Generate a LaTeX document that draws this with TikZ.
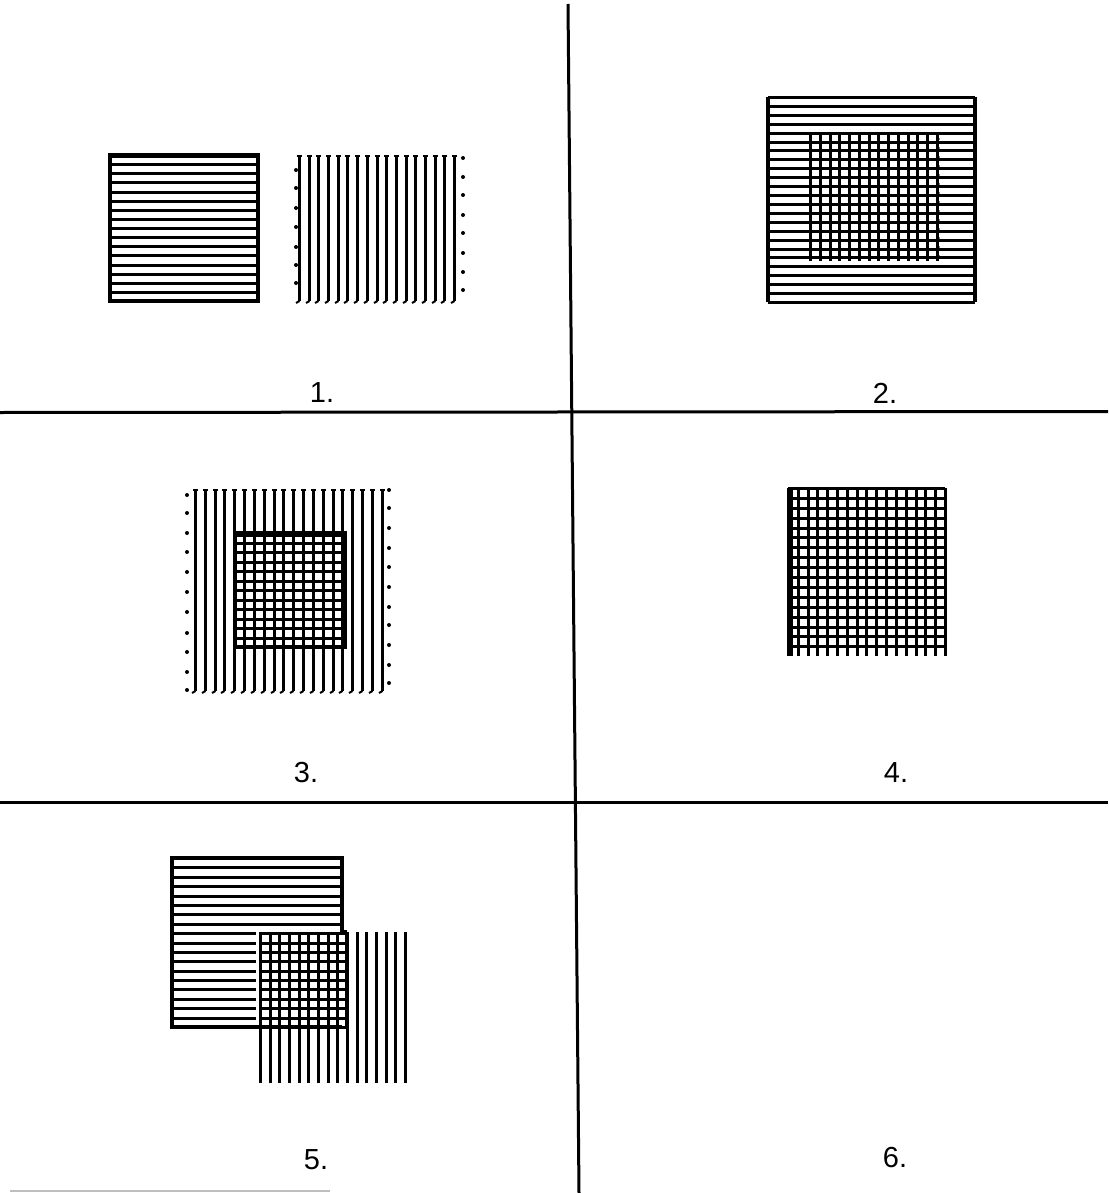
\documentclass[tikz,border=0pt]{standalone}
\usepackage{fontspec}
\setmainfont{Liberation Sans}
\begin{document}
\begin{tikzpicture}[x=1pt,y=-1pt,
  hatch/.style={line width=3pt},
  tick/.style={line width=2pt},
  frame/.style={line width=4pt},
  divider/.style={line width=3pt},
  lbl/.style={font=\fontsize{29}{29}\selectfont, inner sep=0pt}]
\useasboundingbox (0,0) rectangle (1108,1193);
% dividers
\coordinate (vt) at (568,4);
\coordinate (vb) at (579,1193);
\coordinate (h1l) at (0,412.5);
\coordinate (h1r) at (1108,411.5);
\coordinate (h2l) at (0,802.5);
\coordinate (h2r) at (1108,802.5);
\draw[divider] (vt) -- (vb);
\draw[divider] (h1l) -- (h1r);
\draw[divider] (h2l) -- (h2r);
\draw[black!25, line width=2pt] (10,1191) -- (330,1191);

% ---------- panel 1 ----------
\foreach \k in {0,...,16} \draw[hatch] (110,{round(155+\k*9.125)+0.5}) -- (258,{round(155+\k*9.125)+0.5});
\draw[frame] (110,155) rectangle (258,301);
\draw[line width=5pt] (110,156) -- (258,156);
\foreach \k in {0,...,16} {
  \pgfmathsetmacro\xx{round(299+\k*9.7)+0.5}
  \draw[hatch] (\xx,157) -- (\xx,301);
  \draw[tick] (\xx-2.5,156) -- (\xx+2.5,156);
  \draw[tick] (\xx,301) -- (\xx-3.5,303);
}
\foreach \y in {170,188,208,227,247,265,283} \fill (296,\y) circle (2);
\foreach \y in {158,177,195,215,233,253,272,290} \fill (463,\y) circle (2);

% ---------- panel 2 ----------
\foreach \k in {0,...,23} \draw[hatch] (768,{round(97+\k*8.913)+0.5}) -- (975,{round(97+\k*8.913)+0.5});
\draw[frame] (768,97) -- (768,302);
\draw[frame] (975,97) -- (975,302);
\foreach \k in {0,...,13} \draw[hatch] ({round(810+\k*9.77)+0.5},135) -- ({round(810+\k*9.77)+0.5},261);
\foreach \y in {139,148,157,166,175,184,193,202,211,220,229,238,247,256}
  \fill (938,\y) circle (1.8);

% ---------- panel 3 ----------
\foreach \k in {0,...,19} {
  \pgfmathsetmacro\xx{round(195+\k*9.83)+0.5}
  \draw[hatch] (\xx,491) -- (\xx,691);
  \draw[tick] (\xx-2.5,490) -- (\xx+2.5,490);
  \draw[tick] (\xx,691) -- (\xx-3.5,693);
}
\foreach \k in {0,...,12} \draw[hatch] (235,{round(533+\k*9.5)+0.5}) -- (345,{round(533+\k*9.5)+0.5});
\draw[frame] (235,533) rectangle (345,647);
\draw[line width=5.5pt] (235,534) -- (345,534);
\foreach \y in {495,513,533,552,572,592,612,633,652,672,690} \fill (187,\y) circle (2);
\foreach \y in {490,508,528,548,567,587,607,625,645,665,683} \fill (389,\y) circle (2);

% ---------- panel 4 ----------
\foreach \k in {0,...,16} \draw[hatch] ({round(788+\k*9.81)+0.5},488) -- ({round(788+\k*9.81)+0.5},656);
\foreach \k in {0,...,16} \draw[hatch] (788,{round(488+\k*9.9)+0.5}) -- (945,{round(488+\k*9.9)+0.5});
\draw[line width=5.5pt] (790,488) -- (790,656);

% ---------- panel 5 ----------
\foreach \k in {0,...,18} {
  \pgfmathsetmacro\yy{round(858+\k*9.39)+0.5}
  \ifdim\yy pt<930pt
    \draw[hatch] (172,\yy) -- (342,\yy);
  \else
    \draw[hatch] (172,\yy) -- (256,\yy);
    \draw[hatch] (260,\yy) -- (347,\yy);
  \fi
}
\draw[frame] (342,1027) -- (172,1027) -- (172,858) -- (342,858) -- (342,932) -- (347,932);
\foreach \k in {0,...,15} \draw[hatch] ({round(260+\k*9.67)+0.5},932) -- ({round(260+\k*9.67)+0.5},1083);
\draw[frame] (347,932) -- (347,1028);

% ---------- labels ----------
\node[lbl] (l1) at (322,393) {1.};
\node[lbl] (l2) at (885,393) {2.};
\node[lbl] (l3) at (306,773) {3.};
\node[lbl] (l4) at (896,773) {4.};
\node[lbl] (l5) at (316,1160) {5.};
\node[lbl] (l6) at (895,1158) {6.};
\end{tikzpicture}
\end{document}
